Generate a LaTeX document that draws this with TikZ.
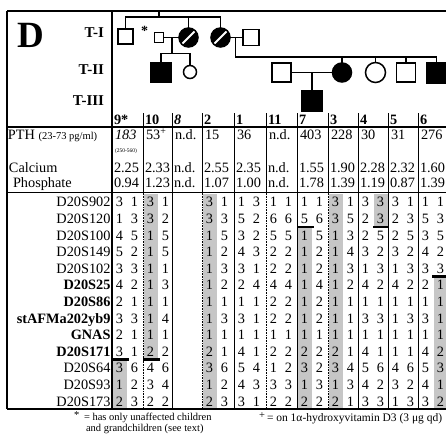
\documentclass[tikz,border=0pt]{standalone}
\usepackage{fontspec}
\setmainfont{Liberation Serif}
\newcommand\allelecol[3]{%
  \foreach \aL/\aR [count=\ri] in {#3} {%
    \node[val, name=#2l\ri] at (#1+7.5, {202+16.6*(\ri-1)}) {\aL};
    \node[val, name=#2r\ri] at (#1+22.5, {202+16.6*(\ri-1)}) {\aR};
  }%
}
\newcommand\hlcell[3]{%
  \fill[hl] (#1, {193.7+16.6*(#2-1)}) rectangle ++(14, {16.6*(#3-#2+1)});%
}
\begin{document}
\begin{tikzpicture}[x=1pt,y=-1pt,
  every node/.style={inner sep=0pt,outer sep=0pt},
  val/.style={font=\fontsize{14.3}{16}\selectfont, text height=9.6pt, text depth=0pt},
  hdr/.style={font=\fontsize{14.3}{16}\selectfont\bfseries, text height=9.6pt, text depth=0pt, anchor=west},
  gen/.style={font=\fontsize{15}{16}\selectfont\bfseries, text height=10pt, text depth=0pt, anchor=east},
  mk/.style={val, anchor=east},
  vw/.style={val, anchor=west},
  hl/.style={fill=gray!45},
  ped/.style={line width=1.5pt},
  msq/.style={draw, rectangle, line width=1.5pt, minimum size=#1},
  fci/.style={draw, circle, line width=1.5pt, minimum size=#1},
  aff/.style={fill=black},
  hatch/.style={fill=black, path picture={\draw[white, line width=1.8pt]
     ([shift={(3pt,3pt)}]path picture bounding box.south west) --
     ([shift={(-3pt,-3pt)}]path picture bounding box.north east);}},
  border/.style={line width=1.3pt},
  sep/.style={line width=0.7pt},
  recomb/.style={line width=2.6pt},
  foot/.style={font=\fontsize{10.5}{11}\selectfont, anchor=base west}
]
\useasboundingbox (0,0) rectangle (446,433);
\fill[white] (0,0) rectangle (446,433);

% ---------- shaded haplotype cells ----------
\hlcell{113}{11}{13}
\hlcell{143.5}{1}{10}
\hlcell{202.5}{1}{13}
\hlcell{298}{3}{13}
\hlcell{328.5}{1}{13}
\hlcell{373.5}{1}{2}
\hlcell{433.5}{6}{13}

% ---------- table frame ----------
\draw[border] (7,11) -- (447,11);
\draw[border] (7,11) -- (7,409);
\draw[border] (7,409) -- (447,409);
\draw[border] (7,127) -- (447,127);
\draw[border] (7,192.5) -- (447,192.5);
\draw[line width=1.2pt] (112,11) -- (112,409);
\foreach \s in {172,234,297,358,388,418} \draw[sep] (\s,113) -- (\s,409);
\foreach \s in {143,202,266,328} {
  \draw[sep] (\s,113) -- (\s,192.5);
  \draw[line width=0.6pt, densely dotted] (\s,192.5) -- (\s,409);
}

% ---------- recombination bars ----------
\draw[recomb] (112,359.7) -- (129,359.7);
\draw[recomb] (143,359.7) -- (160,359.7);
\draw[recomb] (297,226.9) -- (314,226.9);
\draw[recomb] (373,226.9) -- (388,226.9);
\draw[recomb] (432,276.7) -- (447,276.7);

% ---------- left labels ----------
\node[font=\fontsize{37}{37}\selectfont\bfseries, anchor=west] (D) at (17,35) {D};
\node[gen] (tI) at (104,33) {T-I};
\node[gen] (tII) at (104,70) {T-II};
\node[gen] (tIII) at (104,100) {T-III};
\node[vw] (pthl) at (8,135) {PTH {\fontsize{10.5}{11}\selectfont (23-73 pg/ml)}};
\node[vw] (cal) at (9,168) {Calcium};
\node[vw] (pho) at (13,183) {Phosphate};

% ---------- pedigree ----------
\node[msq=15pt] (i1) at (125.5,36.5) {};
\node[font=\fontsize{14}{14}\selectfont\bfseries] (star) at (144.5,31) {*};
\node[msq=9.5pt, line width=1.4pt] (i1s) at (159,37.5) {};
\node[fci=19pt, hatch] (i2) at (188.5,37.5) {};
\node[fci=19pt, hatch] (i3) at (220.5,37.5) {};
\node[msq=16pt] (i3s) at (251,37.5) {};
\node[msq=20pt, aff] (ii1) at (161,72.5) {};
\node[fci=13pt] (ii2) at (190,72) {};
\node[msq=19pt] (ii3s) at (281.5,72.5) {};
\node[fci=19pt, aff] (ii4) at (342,72.5) {};
\node[fci=20pt] (ii5) at (375.5,72.5) {};
\node[msq=19pt] (ii6) at (406,72.5) {};
\node[msq=20pt, aff] (ii7) at (436.5,73) {};
\node[draw, rectangle, line width=1.5pt, minimum width=20pt, minimum height=21pt, aff] (iii1) at (312,101) {};

\coordinate (root) at (159,11);
\coordinate (sibI) at (159,17);
\draw[ped] (root) -- (sibI);
\draw[ped] (i1.north) -- (i1.north |- sibI) -- (i3.north |- sibI) -- (i3.north);
\draw[ped] (i2.north) -- (i2.north |- sibI);
\draw[ped] (i1s) -- (i2);
\coordinate (mI) at (172,37.5);
\coordinate (sibII) at (172,53.5);
\draw[ped] (mI) -- (sibII);
\draw[ped] (ii1.north) -- (ii1.north |- sibII) -- (ii2.north |- sibII) -- (ii2.north);
\draw[ped] (i3) -- (i3s);
\coordinate (mI2) at (235.5,37.5);
\coordinate (sibII2) at (235.5,57);
\draw[ped] (mI2) -- (sibII2) -- (ii7.north |- sibII2) -- (ii7.north);
\draw[ped] (ii4.north) -- (ii4.north |- sibII2);
\draw[ped] (ii5.north) -- (ii5.north |- sibII2);
\draw[ped] (ii6.north) -- (ii6.north |- sibII2);
\draw[ped] (ii3s) -- (ii4);
\coordinate (mII) at (312,72.5);
\draw[ped] (mII) -- (iii1.north);

% ---------- header numbers ----------
\foreach \s/\t [count=\k] in {112/9*, 143/10, 172/\textit{8}, 202/2, 234/1, 266/11, 297/7, 328/3, 358/4, 388/5, 418/6}
  \node[hdr, name=h\k] at (\s+2,120) {\t};

% ---------- clinical values ----------
\foreach \s/\t [count=\k] in {112/\textit{183}, 143/53\textsuperscript{+}, 172/n.d., 202/15, 234/36, 266/n.d., 297/403, 328/228, 358/30, 388/31, 418/276}
  \node[vw, name=p\k] at (\s+3,135) {\t};
\node[font=\fontsize{5.5}{6}\selectfont, anchor=west] (range) at (115,151) {(250-560)};
\foreach \s/\t [count=\k] in {112/2.25, 143/2.33, 172/n.d., 202/2.55, 234/2.35, 266/n.d., 297/1.55, 328/1.90, 358/2.28, 388/2.32, 418/1.60}
  \node[vw, name=ca\k] at (\s+2,168) {\t};
\foreach \s/\t [count=\k] in {112/0.94, 143/1.23, 172/n.d., 202/1.07, 234/1.00, 266/n.d., 297/1.78, 328/1.39, 358/1.19, 388/0.87, 418/1.39}
  \node[vw, name=ph\k] at (\s+2,183) {\t};

% ---------- marker names ----------
\foreach \m [count=\ri] in {D20S902, D20S120, D20S100, D20S149, D20S102, \textbf{D20S25}, \textbf{D20S86}, \textbf{stAFMa202yb9}, \textbf{GNAS}, \textbf{D20S171}, D20S64, D20S93, D20S173}
  \node[mk, name=mk\ri] at (110.5, {202+16.6*(\ri-1)}) {\m};

% ---------- alleles ----------
\allelecol{112}{c9}{3/1,1/3,4/5,5/2,3/3,4/2,2/1,3/3,2/1,3/1,3/6,1/2,2/3}
\allelecol{143}{c10}{3/1,3/2,1/5,1/5,1/1,1/3,1/1,1/4,1/1,2/2,4/6,3/4,2/2}
\allelecol{202}{c2}{3/1,3/3,1/5,1/2,1/3,1/2,1/1,1/3,1/1,2/1,3/6,1/2,2/3}
\allelecol{234}{c1}{1/3,5/2,3/2,4/3,3/1,2/4,1/1,3/1,1/1,4/1,5/4,4/3,3/1}
\allelecol{266}{c11}{1/1,6/6,5/5,2/2,2/2,4/4,2/2,2/2,1/1,2/2,1/2,3/3,2/2}
\allelecol{297}{c7}{1/1,5/6,1/5,1/2,1/2,1/4,1/2,1/2,1/1,2/2,3/2,1/3,2/2}
\allelecol{328}{c3}{3/1,3/5,1/3,1/4,1/3,1/2,1/1,1/1,1/1,2/1,3/4,1/3,2/1}
\allelecol{358}{c4}{3/3,2/3,2/5,3/2,1/3,4/2,1/1,3/3,1/1,4/1,5/6,4/2,3/3}
\allelecol{388}{c5}{3/1,2/3,2/5,3/2,1/3,4/2,1/1,1/3,1/1,1/1,4/6,3/2,1/3}
\allelecol{418}{c6}{1/1,5/3,3/5,4/2,3/3,2/1,1/1,3/1,1/1,4/2,5/3,4/1,3/2}

% ---------- footnotes ----------
\node[foot] (fstar) at (74,418) {*};
\node[foot] (fn1) at (84,420.5) {= has only unaffected children};
\node[foot] (fn2) at (86,431.5) {and grandchildren (see text)};
\node[foot] (fplus) at (259,418) {+};
\node[foot, font=\fontsize{11.5}{12}\selectfont] (fn3) at (267,421) {= on 1α-hydroxyvitamin D3 (3 μg qd)};
\end{tikzpicture}
\end{document}
